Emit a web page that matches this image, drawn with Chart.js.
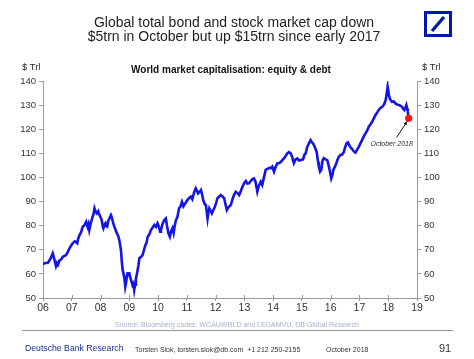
<!DOCTYPE html>
<html>
<head>
<meta charset="utf-8">
<script src="https://cdn.jsdelivr.net/npm/chart.js@4"></script>
<style>
  html,body{margin:0;padding:0;background:#fff;}
  #wrap{position:relative;width:474px;height:359px;overflow:hidden;background:#fff;font-family:"Liberation Sans",Arial,sans-serif;}
  #c{position:absolute;left:0;top:0;}
  .t{position:absolute;white-space:nowrap;line-height:1;}
</style>
</head>
<body>
<div id="wrap">
  <canvas id="c" width="474" height="359"></canvas>
  <div class="t" style="left:0;width:468px;text-align:center;top:15px;font-size:14px;color:#222;">Global total bond and stock market cap down</div>
  <div class="t" style="left:0;width:468px;text-align:center;top:29px;font-size:14px;color:#222;">$5trn in October but up $15trn since early 2017</div>
  <div class="t" style="left:0;width:462px;text-align:center;top:65px;font-size:10px;font-weight:bold;color:#111;">World market capitalisation: equity &amp; debt</div>
  <div class="t" style="left:22px;top:62px;font-size:9.5px;color:#222;">$ Trl</div>
  <div class="t" style="left:422px;top:62px;font-size:9.5px;color:#222;">$ Trl</div>
  <svg style="position:absolute;left:424px;top:11px;" width="28" height="26" viewBox="0 0 28 26">
    <rect x="1.5" y="1.5" width="25" height="23" fill="none" stroke="#0018a8" stroke-width="3"/>
    <line x1="8" y1="20" x2="20" y2="6" stroke="#0018a8" stroke-width="3.2"/>
  </svg>
  <div class="t" style="left:0;width:474px;text-align:center;top:321px;font-size:7px;color:#a6b0c8;">Source: Bloomberg codes: WCAUWRLD and LEGAMVU, DB Global Research</div>
  <div style="position:absolute;left:22px;top:330px;width:431px;height:1px;background:#8a93a8;"></div>
  <div class="t" style="left:25px;top:344px;font-size:8.7px;color:#1b2f8c;">Deutsche Bank Research</div>
  <div class="t" style="left:135px;top:346px;font-size:7px;color:#333;">Torsten Slok, torsten.slok@db.com&nbsp; +1 212 250-2155</div>
  <div class="t" style="left:326px;top:346px;font-size:7px;color:#333;">October 2018</div>
  <div class="t" style="left:439px;top:343px;font-size:11px;color:#333;">91</div>
</div>
<script>
// ---- data ----
const years = [
2006.00,2006.08,2006.17,2006.27,2006.34,2006.40,2006.45,2006.48,2006.52,2006.57,2006.63,2006.69,2006.80,2006.86,2006.92,
2007.03,2007.10,2007.13,2007.19,2007.22,2007.27,2007.33,2007.38,2007.44,2007.50,2007.55,2007.58,2007.61,2007.66,2007.71,2007.76,2007.79,2007.83,2007.87,2007.92,2007.96,
2008.00,2008.04,2008.08,2008.10,2008.14,2008.17,2008.20,2008.23,2008.27,2008.31,2008.36,2008.39,2008.44,2008.48,2008.53,2008.57,2008.62,2008.65,2008.71,2008.74,2008.77,2008.80,2008.83,2008.86,2008.89,2008.92,2008.94,
2009.00,2009.03,2009.06,2009.11,2009.14,2009.17,2009.20,2009.23,2009.28,2009.32,2009.35,2009.40,2009.46,2009.50,2009.56,2009.60,2009.64,2009.70,2009.75,2009.80,2009.87,2009.93,2009.98,
2010.03,2010.07,2010.10,2010.15,2010.21,2010.27,2010.31,2010.36,2010.41,2010.45,2010.50,2010.54,2010.58,2010.62,2010.67,2010.73,2010.78,2010.83,2010.88,2010.91,2010.96,
2011.02,2011.08,2011.14,2011.19,2011.26,2011.31,2011.35,2011.39,2011.44,2011.49,2011.53,2011.57,2011.62,2011.66,2011.70,2011.72,2011.75,2011.78,2011.83,2011.87,2011.92,2011.98,
2012.02,2012.06,2012.12,2012.18,2012.25,2012.30,2012.35,2012.39,2012.44,2012.48,2012.53,2012.60,2012.65,2012.70,2012.76,2012.82,2012.88,2012.93,2012.99,
2013.05,2013.10,2013.16,2013.22,2013.28,2013.33,2013.38,2013.42,2013.45,2013.50,2013.57,2013.62,2013.67,2013.74,2013.80,2013.86,2013.92,2013.97,
2014.03,2014.09,2014.15,2014.22,2014.27,2014.32,2014.38,2014.44,2014.49,2014.55,2014.61,2014.66,2014.72,2014.78,2014.84,2014.90,2014.96,
2015.04,2015.09,2015.13,2015.18,2015.24,2015.30,2015.35,2015.39,2015.45,2015.51,2015.56,2015.59,2015.63,2015.67,2015.72,2015.76,2015.82,2015.88,2015.94,2015.98,
2016.02,2016.06,2016.09,2016.15,2016.20,2016.23,2016.28,2016.34,2016.40,2016.46,2016.50,2016.55,2016.60,2016.67,2016.73,2016.81,2016.86,2016.92,2016.98,
2017.03,2017.09,2017.15,2017.21,2017.27,2017.32,2017.38,2017.44,2017.50,2017.56,2017.62,2017.67,2017.73,2017.79,2017.84,2017.87,2017.91,2017.94,2017.98,
2018.02,2018.05,2018.09,2018.13,2018.19,2018.25,2018.31,2018.37,2018.42,2018.48,2018.52,2018.56,2018.60,2018.63,2018.66,2018.68,2018.71
];
const marketCap = [
64.1,64.5,64.6,66.5,68.5,65.8,63.3,64.5,63.8,65.5,66.0,67.1,67.8,69.0,70.6,
72.7,73.5,73.3,72.7,74.5,76.1,77.5,79.6,80.2,81.6,79.5,80.6,78.2,81.0,83.1,85.0,87.2,85.8,85.1,86.0,84.5,
83.5,82.3,79.5,78.9,80.5,81.0,79.8,79.6,82.0,83.1,84.4,83.5,81.0,79.6,78.0,76.8,75.5,74.1,69.9,65.0,61.6,60.0,58.2,54.7,56.5,59.5,60.2,
60.2,58.5,57.5,55.4,56.0,53.3,55.5,58.0,61.0,63.7,66.5,67.0,67.8,69.5,72.0,73.0,75.4,76.5,78.2,79.0,80.3,79.5,81.0,
79.5,77.5,78.2,80.5,82.3,83.0,80.0,76.8,75.4,77.5,78.9,77.0,80.0,82.3,83.5,87.2,88.0,89.9,88.0,88.6,89.5,
90.6,91.5,92.0,91.0,94.1,95.5,94.5,93.4,94.0,94.8,93.0,90.6,89.0,88.6,85.0,83.0,85.5,87.2,86.0,85.1,86.5,87.9,
89.5,91.3,92.0,92.7,92.0,91.3,88.5,86.5,87.5,88.0,88.6,91.5,93.0,94.1,93.5,92.7,94.5,96.0,97.6,
98.5,97.5,97.6,98.5,99.3,99.6,98.5,96.0,94.1,96.5,98.2,96.9,99.5,103.1,103.5,104.0,103.8,104.5,
102.4,104.5,105.9,106.0,106.5,107.2,108.0,109.0,110.0,110.5,110.0,108.5,105.9,107.5,107.9,107.0,107.2,
107.5,109.5,110.0,112.5,114.1,115.5,114.5,114.1,112.5,110.7,106.5,104.5,102.4,103.1,107.2,108.0,107.5,107.2,104.5,102.0,
99.6,101.0,103.1,104.5,106.0,107.2,108.5,109.3,109.5,110.7,112.5,114.1,114.5,112.8,112.0,110.7,110.3,111.5,112.8,
114.0,115.5,117.0,118.3,119.5,121.0,122.0,123.1,124.5,125.9,127.0,128.0,128.8,129.3,130.0,130.7,132.0,134.2,137.6,
134.5,132.8,132.0,131.4,131.5,130.7,130.2,130.0,129.8,129.3,128.5,128.0,129.0,130.0,128.5,127.3,124.5
];
const yearTicks = [2006,2007,2008,2009,2010,2011,2012,2013,2014,2015,2016,2017,2018,2019];
const valueTicks = [50,60,70,80,90,100,110,120,130,140];
const markerYear = [2018.71];
const markerValue = [124.5];
const markerLabel = "October 2018";

const lineData = years.map((x, i) => ({x: x, y: marketCap[i]}));
const dotData = markerYear.map((x, i) => ({x: x, y: markerValue[i]}));

const axisColor = '#9a9a9a';
const tickFont = {family: '"Liberation Sans", Arial, sans-serif', size: 9.5};

const annotationPlugin = {
  id: 'annot',
  afterDatasetsDraw(chart) {
    const ctx = chart.ctx;
    const meta = chart.getDatasetMeta(0);
    const pt = meta.data[0];
    if (!pt) return;
    const px = pt.x, py = pt.y;
    // arrow
    const x1 = px - 12, y1 = py + 19, x2 = px - 1.5, y2 = py + 3;
    ctx.save();
    ctx.strokeStyle = '#111';
    ctx.fillStyle = '#111';
    ctx.lineWidth = 1;
    ctx.beginPath();
    ctx.moveTo(x1, y1);
    ctx.lineTo(x2, y2);
    ctx.stroke();
    const ang = Math.atan2(y2 - y1, x2 - x1);
    const hl = 4;
    ctx.beginPath();
    ctx.moveTo(x2, y2);
    ctx.lineTo(x2 - hl * Math.cos(ang - 0.45), y2 - hl * Math.sin(ang - 0.45));
    ctx.lineTo(x2 - hl * Math.cos(ang + 0.45), y2 - hl * Math.sin(ang + 0.45));
    ctx.closePath();
    ctx.fill();
    ctx.font = 'italic 7px "Liberation Sans", Arial, sans-serif';
    ctx.fillStyle = '#333';
    ctx.textAlign = 'center';
    ctx.textBaseline = 'middle';
    ctx.fillText(markerLabel, px - 17, py + 26);
    ctx.restore();
  },
  afterDraw(chart) {
    // small tick marks crossing the x axis (upward part)
    const ctx = chart.ctx;
    const xs = chart.scales.x;
    const b = chart.chartArea.bottom;
    ctx.save();
    ctx.strokeStyle = axisColor;
    ctx.lineWidth = 1;
    yearTicks.forEach(v => {
      const x = Math.round(xs.getPixelForValue(v)) + 0.5;
      ctx.beginPath();
      ctx.moveTo(x, b - 3);
      ctx.lineTo(x, b);
      ctx.stroke();
    });
    ctx.restore();
  }
};

new Chart(document.getElementById('c'), {
  type: 'line',
  data: {
    datasets: [
      {
        label: 'October 2018',
        data: dotData,
        showLine: false,
        pointRadius: 3.6,
        pointBackgroundColor: '#ff1010',
        pointBorderColor: '#ff1010',
        pointBorderWidth: 0,
        order: 0,
        yAxisID: 'y'
      },
      {
        label: 'World market capitalisation',
        data: lineData,
        borderColor: '#1414e6',
        borderWidth: 2.6,
        pointRadius: 0,
        tension: 0,
        fill: false,
        order: 1,
        yAxisID: 'y'
      }
    ]
  },
  options: {
    responsive: false,
    animation: false,
    devicePixelRatio: 1,
    layout: {padding: {left: 0, right: 0, top: 81, bottom: 41}},
    plugins: {legend: {display: false}, tooltip: {enabled: false}, title: {display: false}},
    scales: {
      x: {
        type: 'linear',
        min: 2006, max: 2019,
        afterBuildTicks: (s) => { s.ticks = yearTicks.map(v => ({value: v})); },
        afterFit: (s) => { s.height = 20; },
        ticks: {
          autoSkip: false, maxRotation: 0,
          callback: (v) => String(v).slice(2),
          color: '#333',
          font: {family: '"Liberation Sans", Arial, sans-serif', size: 10.5},
          padding: 1
        },
        grid: {drawOnChartArea: false, drawTicks: true, tickLength: 3, color: axisColor},
        border: {display: true, color: axisColor, width: 1}
      },
      y: {
        position: 'left',
        min: 50, max: 140,
        afterBuildTicks: (s) => { s.ticks = valueTicks.map(v => ({value: v})); },
        afterFit: (s) => { s.width = 43; },
        ticks: {color: '#333', font: tickFont, padding: 3},
        grid: {drawOnChartArea: false, drawTicks: true, tickLength: 4, color: axisColor},
        border: {display: true, color: axisColor, width: 1}
      },
      y2: {
        position: 'right',
        min: 50, max: 140,
        afterBuildTicks: (s) => { s.ticks = valueTicks.map(v => ({value: v})); },
        afterFit: (s) => { s.width = 57; },
        ticks: {color: '#333', font: tickFont, padding: 3},
        grid: {drawOnChartArea: false, drawTicks: true, tickLength: 4, color: axisColor},
        border: {display: true, color: axisColor, width: 1}
      }
    }
  },
  plugins: [annotationPlugin]
});
</script>
</body>
</html>
